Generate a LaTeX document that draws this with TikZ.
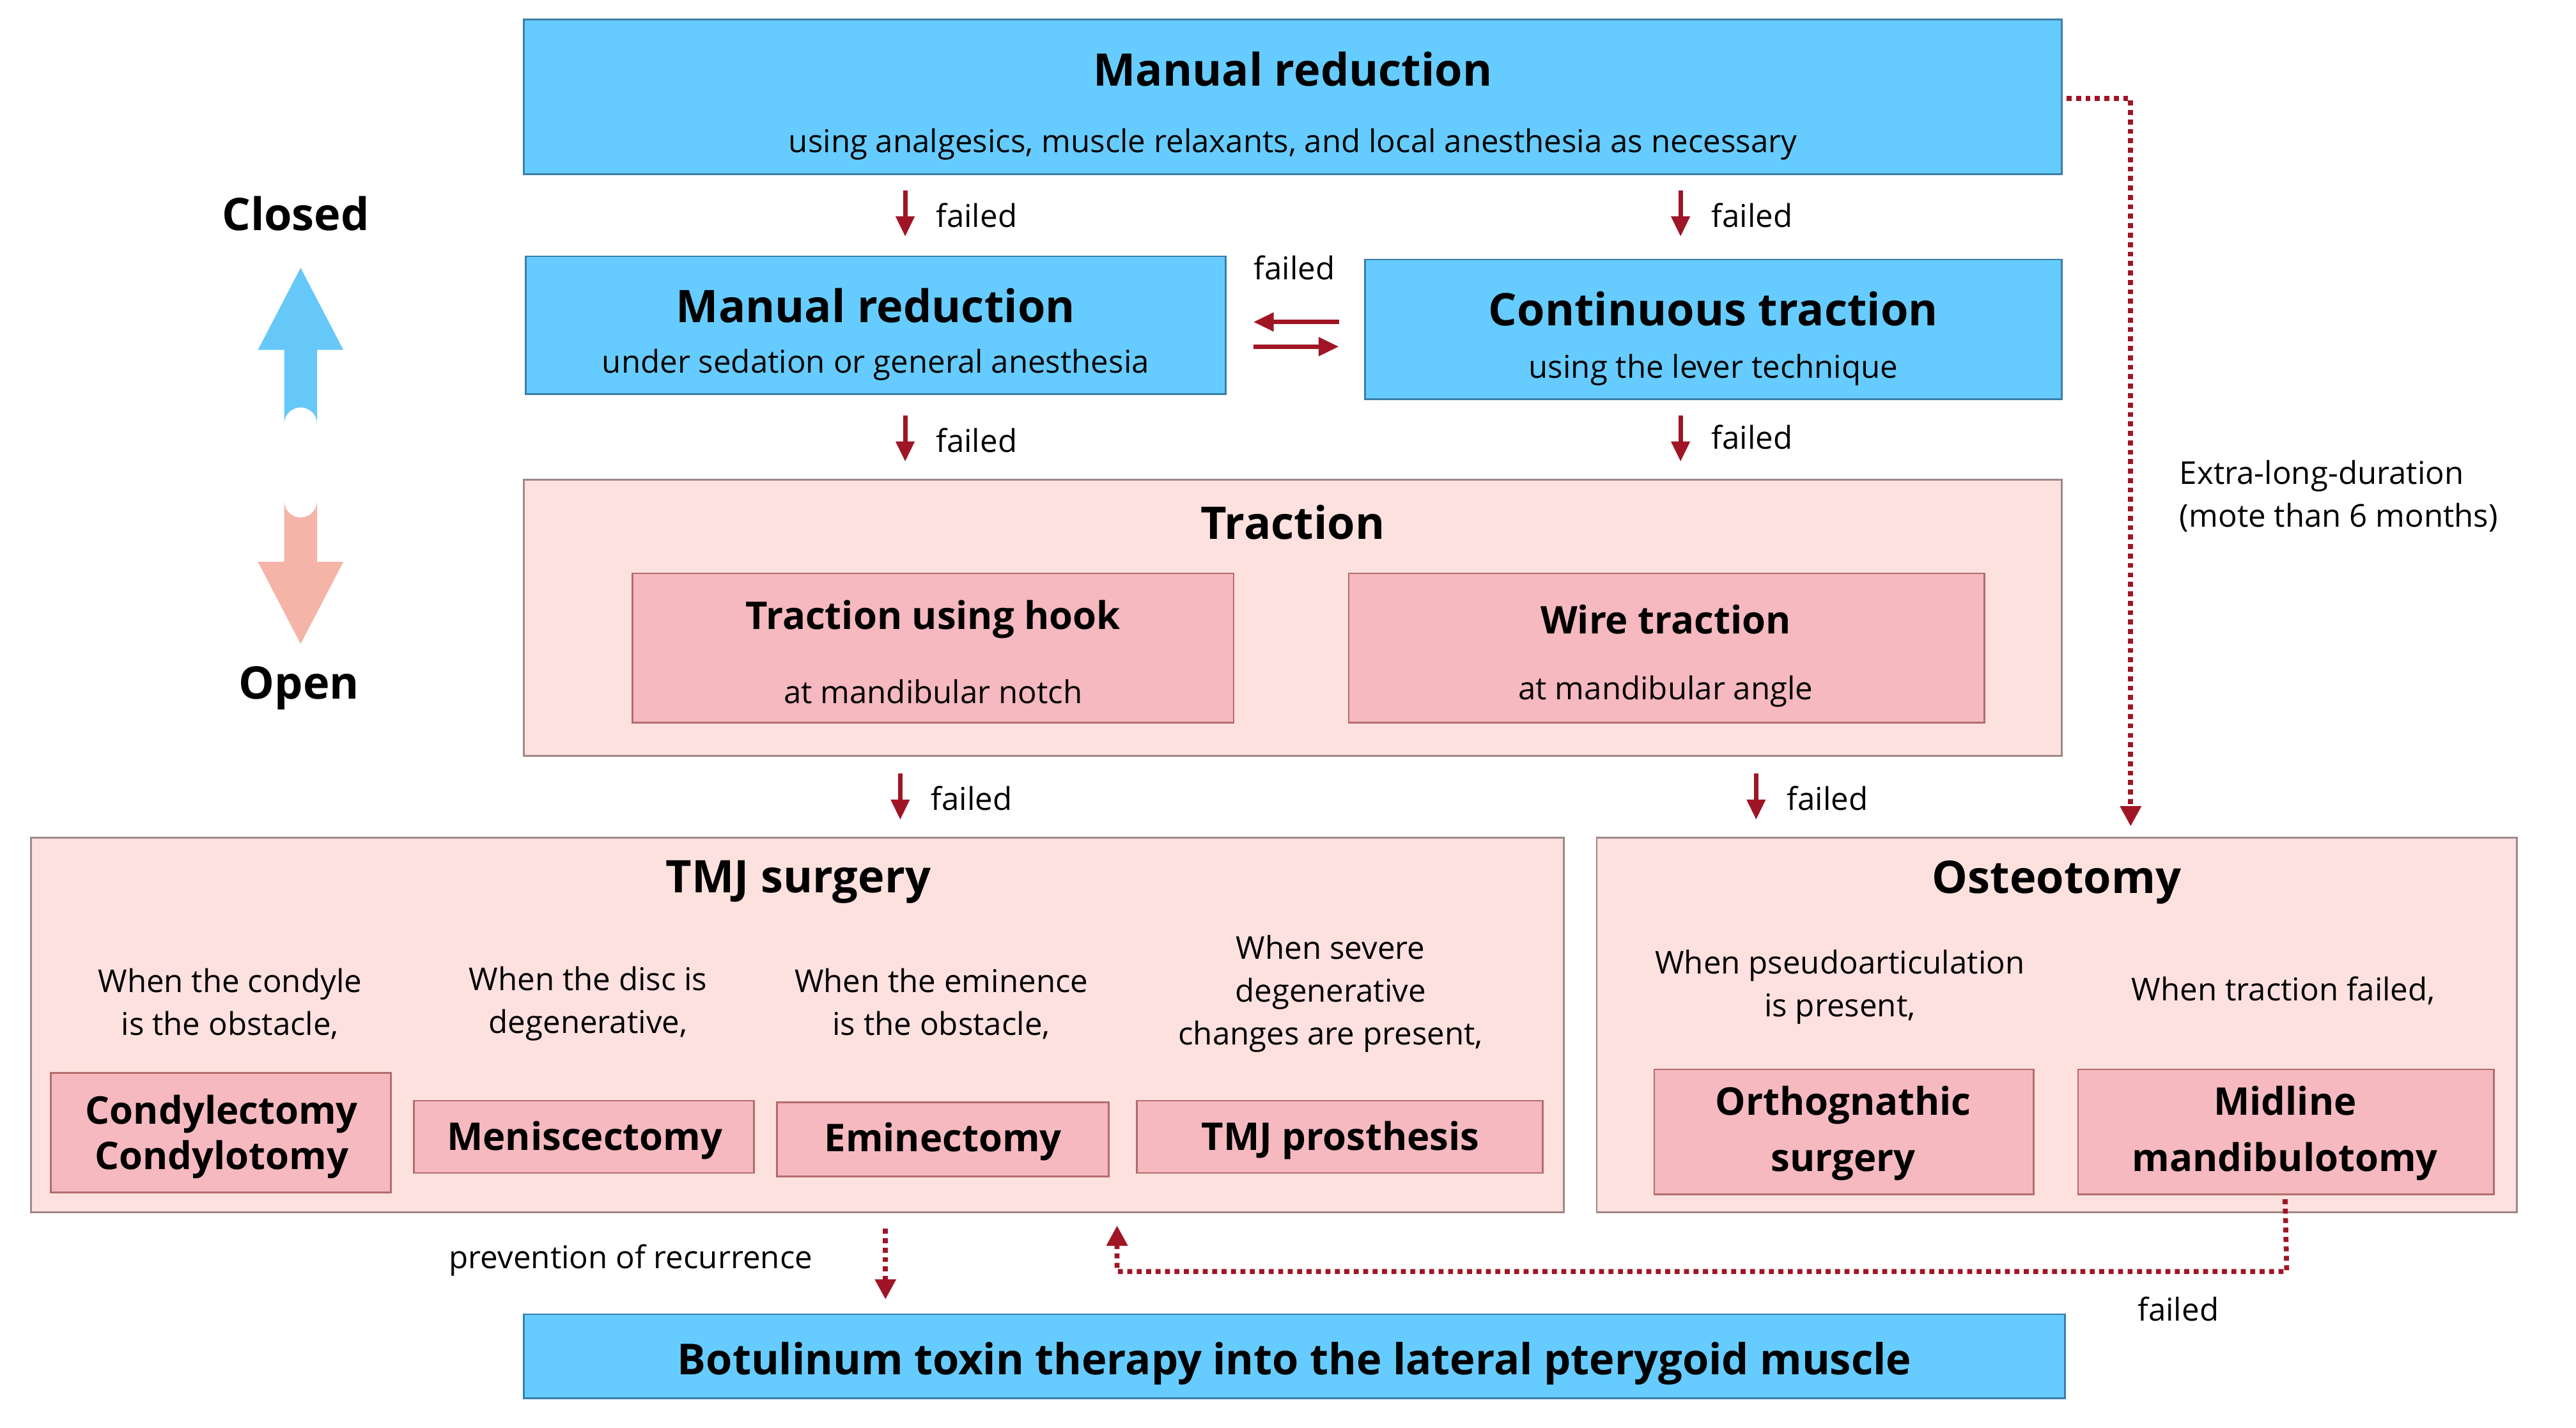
\documentclass[tikz,border=0pt]{standalone}
\usepackage{fontspec}
\setmainfont{Open Sans}
\usetikzlibrary{arrows.meta}
\definecolor{bluebox}{HTML}{66CCFF}
\definecolor{blueborder}{HTML}{3A7FA8}
\definecolor{pinkout}{HTML}{FCE1DE}
\definecolor{pinkin}{HTML}{F5B9BF}
\definecolor{pinkborder}{HTML}{A08888}
\definecolor{darkred}{HTML}{A01525}
\definecolor{uparrow}{HTML}{66C8F8}
\definecolor{downarrow}{HTML}{F5B4A8}
\begin{document}
\begin{tikzpicture}[x=0.0257cm,y=-0.0257cm,
  blue/.style={draw=blueborder,fill=bluebox,line width=0.8pt},
  pout/.style={draw=pinkborder,fill=pinkout,line width=0.8pt},
  pin/.style={draw=pinkborder!80!red,fill=pinkin,line width=0.8pt},
  big/.style={font=\fontsize{20}{24}\selectfont\bfseries},
  mid/.style={font=\fontsize{17}{21}\selectfont\bfseries,align=center},
  body/.style={font=\fontsize{14}{19}\selectfont,align=center},
  fl/.style={font=\fontsize{14}{17}\selectfont,anchor=west},
  red/.style={draw=darkred,line width=2pt,-{Triangle[length=9pt,width=8pt]}},
  dot/.style={draw=darkred,line width=2.2pt,dotted,-{Triangle[length=9pt,width=9pt]}}]
\useasboundingbox (0,0) rectangle (1568.1,868.9);
% boxes
\draw[blue] (319,12) rectangle (1255,106);
\node[big] (t1) at (787,42) {Manual reduction};
\node[body] (s1) at (787,88) {using analgesics, muscle relaxants, and local anesthesia as necessary};
\draw[blue] (320,156) rectangle (746,240);
\node[big] (t2) at (533,186) {Manual reduction};
\node[body] (s2) at (533,222) {under sedation or general anesthesia};
\draw[blue] (831,158) rectangle (1255,243);
\node[big] (t3) at (1043,188) {Continuous traction};
\node[body] (s3) at (1043,225) {using the lever technique};
\draw[pout] (319,292) rectangle (1255,460);
\node[big] (t4) at (787,318) {Traction};
\draw[pin] (385,349) rectangle (751,440);
\node[mid] (t5) at (568,377) {Traction using hook};
\node[body] (s5) at (568,421) {at mandibular notch};
\draw[pin] (821,349) rectangle (1208,440);
\node[mid] (t6) at (1014,377) {Wire traction};
\node[body] (s6) at (1014,421) {at mandibular angle};
\draw[pout] (19,510) rectangle (952,738);
\node[big] (t7) at (486,537) {TMJ surgery};
\node[body] at (140,611) {When the condyle\\is the obstacle,};
\node[body] at (358,611) {When the disc is\\degenerative,};
\node[body] at (573,611) {When the eminence\\is the obstacle,};
\node[body] at (810,605) {When severe\\degenerative\\changes are present,};
\draw[pin] (31,653) rectangle (238,726);
\node[mid,font=\fontsize{17}{20}\selectfont\bfseries] at (135,692) {Condylectomy\\Condylotomy};
\draw[pin] (252,670) rectangle (459,714);
\node[mid] at (356,694) {Meniscectomy};
\draw[pin] (473,671) rectangle (675,716);
\node[mid] at (574,695) {Eminectomy};
\draw[pin] (692,670) rectangle (939,714);
\node[mid] at (816,694) {TMJ prosthesis};
\draw[pout] (972,510) rectangle (1532,738);
\node[big] (t8) at (1252,537) {Osteotomy};
\node[body] at (1120,601) {When pseudoarticulation\\is present,};
\node[body] at (1390,603) {When traction failed,};
\draw[pin] (1007,651) rectangle (1238,727);
\node[mid,font=\fontsize{17}{25}\selectfont\bfseries] at (1122,690) {Orthognathic\\surgery};
\draw[pin] (1265,651) rectangle (1518,727);
\node[mid,font=\fontsize{17}{25}\selectfont\bfseries] (mm) at (1391,690) {Midline\\mandibulotomy};
\draw[blue] (319,800) rectangle (1257,851);
\node[big,font=\fontsize{19}{23}\selectfont\bfseries] (bt) at (788,830) {Botulinum toxin therapy into the lateral pterygoid muscle};
% failed arrows
\coordinate (a1) at (551,116); \coordinate (b1) at (551,144);
\draw[red] (a1) -- (b1); \node[fl] at (565,131) {failed};
\coordinate (a2) at (1023,116); \coordinate (b2) at (1023,144);
\draw[red] (a2) -- (b2); \node[fl] at (1037,131) {failed};
\coordinate (a3) at (551,253); \coordinate (b3) at (551,281);
\draw[red] (a3) -- (b3); \node[fl] at (565,268) {failed};
\coordinate (a4) at (1023,253); \coordinate (b4) at (1023,281);
\draw[red] (a4) -- (b4); \node[fl] at (1037,266) {failed};
\coordinate (a5) at (548,471); \coordinate (b5) at (548,499);
\draw[red] (a5) -- (b5); \node[fl] at (562,486) {failed};
\coordinate (a6) at (1069,471); \coordinate (b6) at (1069,499);
\draw[red] (a6) -- (b6); \node[fl] at (1083,486) {failed};
\coordinate (c1) at (815,196); \coordinate (c2) at (763,196);
\coordinate (c3) at (763,211); \coordinate (c4) at (815,211);
\draw[red] (c1) -- (c2); \draw[red] (c3) -- (c4);
\node[body] at (788,163) {failed};
% dotted
\coordinate (d1) at (1258,60); \coordinate (d2) at (1297,60); \coordinate (d3) at (1297,503);
\draw[dot] (d1) -- (d2) -- (d3);
\node[body,align=left,anchor=west] at (1322,302) {Extra-long-duration\\(mote than 6 months)};
\coordinate (e2) at (1392,774); \coordinate (e3) at (680,774); \coordinate (e4) at (680,746);
\draw[dot] (mm.south |- 0,730) -- (e2) -- (e3) -- (e4);
\node[body] at (1326,797) {failed};
\coordinate (f1) at (539,748); \coordinate (f2) at (539,791);
\draw[dot] (f1) -- (f2);
\node[body] at (384,767) {prevention of recurrence};
% closed/open
\node[big] at (180,130) {Closed};
\node[big] at (182,419) {Open};
\fill[uparrow,rounded corners=0pt] (173,258) arc (180:360:10) -- (193,213) -- (209,213) -- (183,163) -- (157,213) -- (173,213) -- cycle;
\fill[downarrow] (173,305) arc (180:0:10) -- (193,342) -- (209,342) -- (183,392) -- (157,342) -- (173,342) -- cycle;
\end{tikzpicture}
\end{document}
